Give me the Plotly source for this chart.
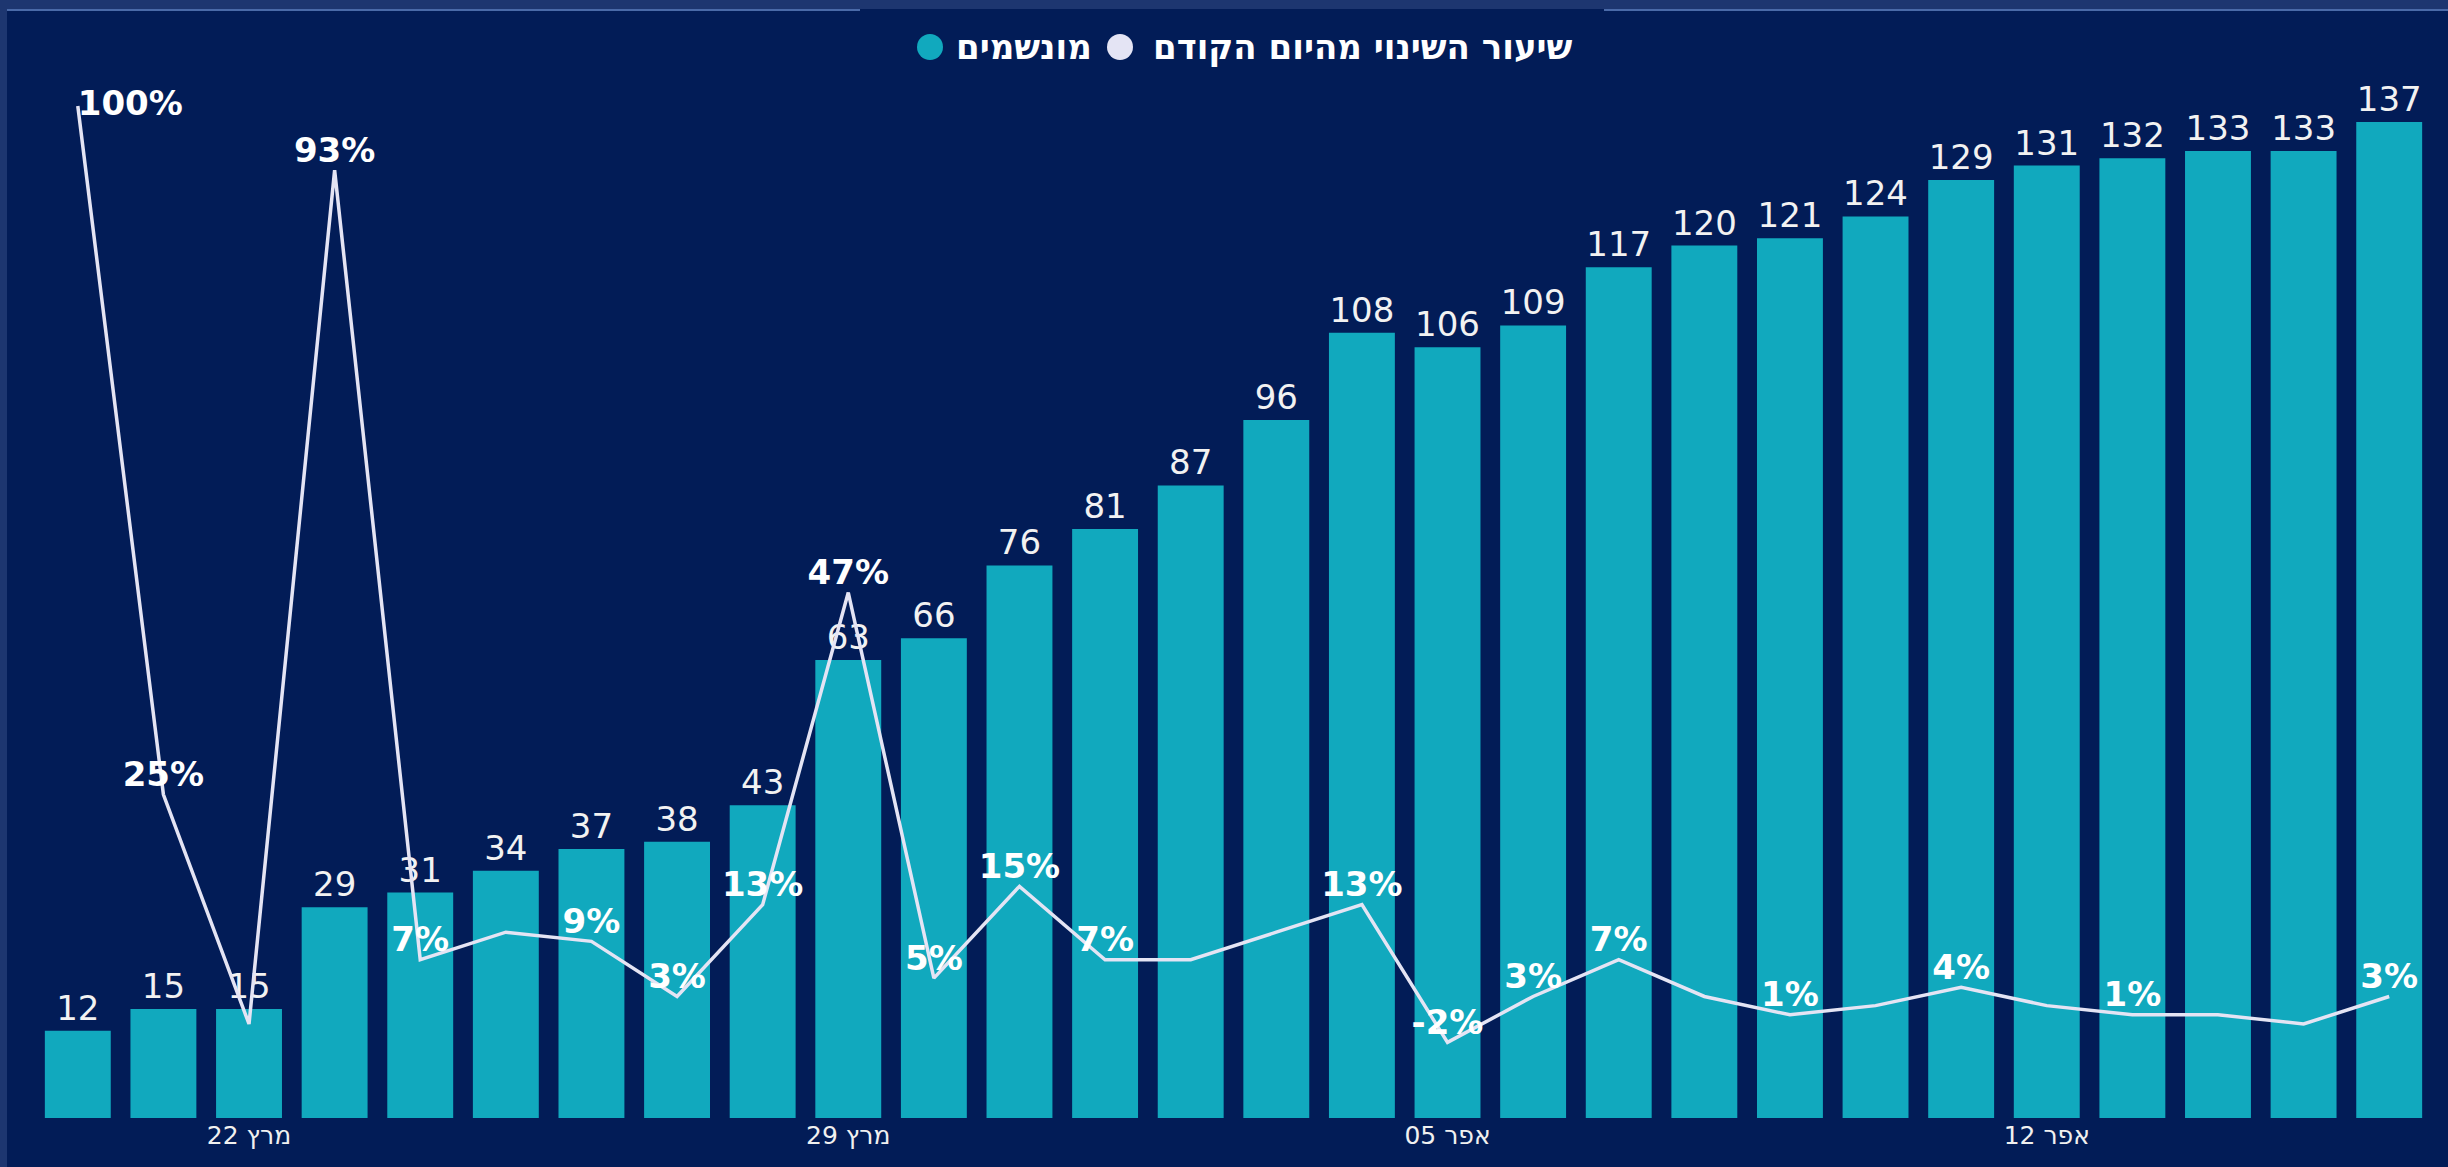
import pandas as pd
import plotly.graph_objects as go

# daily data, 20 Mar - 16 Apr 2020
days = pd.date_range("2020-03-20", periods=28).strftime("%Y-%m-%d").tolist()
ventilated = [12, 15, 15, 29, 31, 34, 37, 38, 43, 63, 66, 76, 81, 87, 96,
              108, 106, 109, 117, 120, 121, 124, 129, 131, 132, 133, 133, 137]
change_pct = [100, 25, 0, 93, 7, 10, 9, 3, 13, 47, 5, 15, 7, 7, 10,
              13, -2, 3, 7, 3, 1, 2, 4, 2, 1, 1, 0, 3]
# which points of the line carry a label in the original
label_shown = [1, 1, 0, 1, 1, 0, 1, 1, 1, 1, 1, 1, 1, 0, 0,
               1, 1, 1, 1, 0, 1, 0, 1, 0, 1, 0, 0, 1]

tick_days = ["2020-03-22", "2020-03-29", "2020-04-05", "2020-04-12"]
tick_text = ["מרץ 22", "מרץ 29", "אפר 05", "אפר 12"]

name_bars = "מונשמים"
name_line = "שיעור השינוי מהיום הקודם"

BG = "#021c57"
BAND = "#1d3670"
TEAL = "#11a9be"
LINE = "#e4e4f4"

W, H = 2448, 1167
L, R, T, B = 35, 16, 95, 49
pw, ph = W - L - R, H - T - B


def px(x):
    return (x - L) / pw


def py(y):
    return (H - B - y) / ph


line_text = [f"{v}%" if s else "" for v, s in zip(change_pct, label_shown)]
line_pos = ["middle right"] + ["top center"] * (len(days) - 1)

fig = go.Figure()
fig.add_trace(go.Bar(
    x=days, y=ventilated, name=name_bars, marker=dict(color=TEAL, line=dict(width=0)),
    text=[str(v) for v in ventilated], textposition="outside", cliponaxis=False,
    constraintext="none",
    textfont=dict(family="DejaVu Sans", size=34, color="#f2f2f2"),
    showlegend=False,
))
fig.add_trace(go.Scatter(
    x=days, y=change_pct, name=name_line, yaxis="y2", mode="lines+text",
    line=dict(color=LINE, width=3.5), text=line_text, textposition=line_pos,
    textfont=dict(family="DejaVu Sans", size=34, color="#ffffff", weight="bold"),
    cliponaxis=False, showlegend=False,
))

shapes = [
    dict(type="rect", xref="paper", yref="paper", x0=px(0), x1=px(7), y0=py(H), y1=py(0),
         fillcolor=BAND, line=dict(width=0), layer="below"),
    dict(type="rect", xref="paper", yref="paper", x0=px(0), x1=px(W), y0=py(9), y1=py(0),
         fillcolor=BAND, line=dict(width=0), layer="below"),
    dict(type="line", xref="paper", yref="paper", x0=px(7), x1=px(860), y0=py(10), y1=py(10),
         line=dict(color="#4a6aa8", width=2)),
    dict(type="line", xref="paper", yref="paper", x0=px(1604), x1=px(W), y0=py(10), y1=py(10),
         line=dict(color="#4a6aa8", width=2)),
    # legend markers
    dict(type="circle", xref="paper", yref="paper", x0=px(917), x1=px(943), y0=py(60), y1=py(34),
         fillcolor=TEAL, line=dict(width=0)),
    dict(type="circle", xref="paper", yref="paper", x0=px(1107), x1=px(1133), y0=py(60), y1=py(34),
         fillcolor=LINE, line=dict(width=0)),
]

legend_font = dict(family="DejaVu Sans", size=34, color="#ffffff", weight="bold")
annotations = [
    dict(text=name_bars, xref="paper", yref="paper", x=px(1024), y=py(47),
         xanchor="center", yanchor="middle", showarrow=False, font=legend_font),
    dict(text=name_line, xref="paper", yref="paper", x=px(1363), y=py(47),
         xanchor="center", yanchor="middle", showarrow=False, font=legend_font),
]

fig.update_layout(
    width=W, height=H,
    margin=dict(l=L, r=R, t=T, b=B),
    paper_bgcolor=BG, plot_bgcolor=BG,
    bargap=0.23,
    showlegend=False,
    shapes=shapes,
    annotations=annotations,
    xaxis=dict(type="date", range=["2020-03-19 12:00", "2020-04-16 12:00"],
               tickvals=tick_days, ticktext=tick_text, showgrid=False, zeroline=False,
               showline=False, ticks="",
               tickfont=dict(family="DejaVu Sans", size=25, color="#f0f0f0")),
    yaxis=dict(range=[0, 140.7], visible=False, showgrid=False),
    yaxis2=dict(range=[-10.24, 101.2], overlaying="y", visible=False, showgrid=False),
)

fig.write_html("out.html", config={"displayModeBar": False},
               post_script="document.body.style.margin='0';document.body.style.overflow='hidden';")
